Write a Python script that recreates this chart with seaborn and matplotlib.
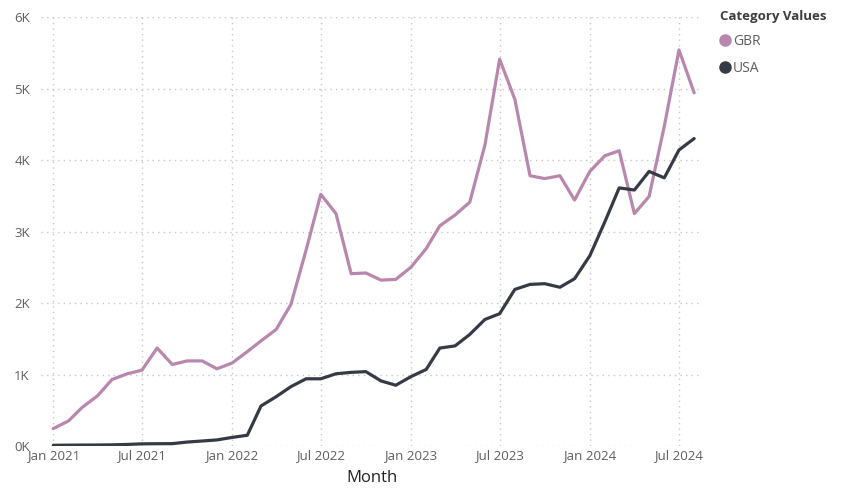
import seaborn as sns
import pandas as pd
import matplotlib.pyplot as plt
import matplotlib.dates as mdates
from matplotlib.lines import Line2D
from matplotlib.ticker import FuncFormatter

# monthly values, Jan 2021 .. Aug 2024
months = pd.date_range("2021-01-01", "2024-08-01", freq="MS")

gbr = [243, 350, 540, 700, 930, 1010, 1060, 1370, 1140, 1190, 1190, 1080,
       1160, 1320, 1470, 1630, 1980, 2740, 3520, 3250, 2410, 2420, 2320, 2330,
       2500, 2760, 3080, 3230, 3410, 4210, 5410, 4850, 3780, 3740, 3780, 3440,
       3840, 4060, 4130, 3250, 3490, 4470, 5540, 4940]
usa = [10, 12, 13, 14, 16, 22, 30, 32, 33, 55, 70, 85,
       120, 150, 560, 690, 830, 940, 940, 1010, 1030, 1040, 910, 850,
       970, 1070, 1370, 1400, 1560, 1770, 1850, 2190, 2260, 2270, 2220, 2340,
       2660, 3140, 3610, 3580, 3840, 3750, 4140, 4300]

categories = ["GBR", "USA"]
colors = {"GBR": "#B887AD", "USA": "#363A45"}

df = pd.DataFrame({
    "Month": list(months) * 2,
    "Value": gbr + usa,
    "Category": ["GBR"] * len(gbr) + ["USA"] * len(usa),
})

sns.set_style("white")
plt.rcParams['font.family'] = ['Open Sans', 'DejaVu Sans']

fig = plt.figure(figsize=(8.47, 4.95), dpi=100)
ax = fig.add_axes([41 / 847, 1 - 446 / 495, (702 - 41) / 847, (446 - 17) / 495])

sns.lineplot(data=df, x="Month", y="Value", hue="Category", palette=colors,
             linewidth=2.3, legend=False, ax=ax)

ax.set_ylim(0, 6000)
ax.set_xlim(pd.Timestamp("2020-12-07"), pd.Timestamp("2024-08-17"))
ax.set_yticks(range(0, 6001, 1000))
ax.yaxis.set_major_formatter(FuncFormatter(lambda v, p: f"{int(v / 1000)}K"))
xt = pd.date_range("2021-01-01", "2024-07-01", freq="6MS")
ax.set_xticks(xt)
ax.xaxis.set_major_formatter(mdates.DateFormatter("%b %Y"))

for s in ax.spines.values():
    s.set_visible(False)
ax.grid(True, linestyle=(0, (1, 3)), color="#C8C6C4", linewidth=1)
ax.tick_params(axis="both", length=0, labelsize=9.5, colors="#605E5C", pad=2)
ax.tick_params(axis="y", pad=8)
ax.set_ylabel("")
ax.set_xlabel("Month", fontsize=12, color="#252423", labelpad=6)

handles = [Line2D([0], [0], marker="o", linestyle="", markersize=8,
                  markerfacecolor=colors[c], markeredgecolor=colors[c]) for c in categories]
leg = fig.legend(handles, categories, loc="upper left",
                 bbox_to_anchor=(714 / 847, 1 - 4 / 495), frameon=False,
                 title="Category Values", alignment="left",
                 title_fontproperties={"weight": "bold", "size": 9.5},
                 fontsize=10, handlelength=0.8, handletextpad=0.15,
                 labelspacing=0.85, borderaxespad=0)
leg.get_title().set_color("#3E3D3B")
for t in leg.get_texts():
    t.set_color("#605E5C")

plt.savefig("out.png", dpi=100)
